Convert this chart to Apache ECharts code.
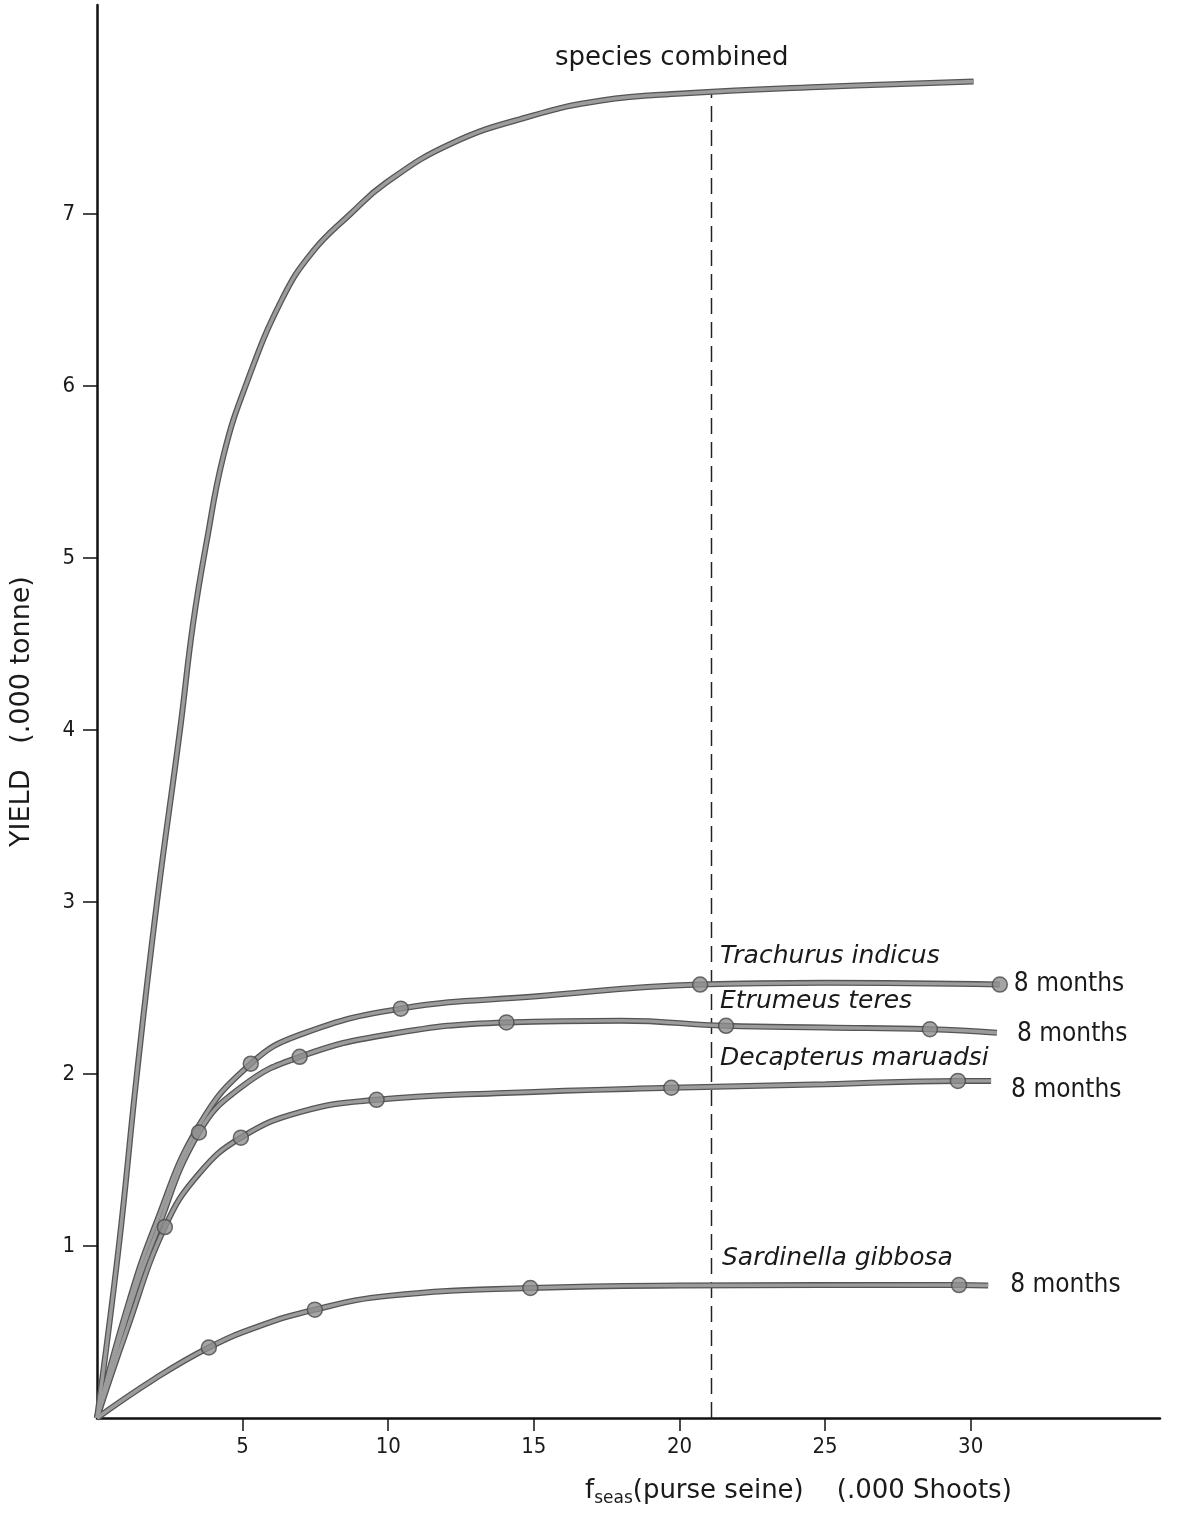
<!DOCTYPE html>
<html>
<head>
<meta charset="utf-8">
<script src="https://cdn.jsdelivr.net/npm/echarts@6/dist/echarts.min.js"></script>
<style>
  html, body { margin: 0; padding: 0; background: #fff; }
  #chart { width: 1179px; height: 1514px; }
</style>
</head>
<body>
<div id="chart"></div>
<script>
// Yield (thousand tonnes) against seasonal purse-seine effort (thousand shoots)
const xTickValues = [5, 10, 15, 20, 25, 30];
const yTickValues = [1, 2, 3, 4, 5, 6, 7];

const combinedCurve = [[0, 0], [0.75, 1.0], [1.37, 2.0], [2.06, 3.0], [2.85, 4.0], [3.3, 4.62],
  [3.77, 5.1], [4.35, 5.6], [5.1, 6.0], [6.34, 6.5], [7.4, 6.78], [8.7, 7.0], [9.91, 7.18],
  [12.17, 7.41], [14.92, 7.57], [17.32, 7.66], [20.06, 7.70], [25, 7.74], [30.1, 7.77]];

const trachurusCurve = [[0, 0], [1, 0.62], [2, 1.12], [3.5, 1.7], [5.28, 2.06], [7, 2.23],
  [10.43, 2.38], [15, 2.45], [20.71, 2.52], [25, 2.53], [31, 2.52]];
const trachurusPoints = [[5.28, 2.06], [10.43, 2.38], [20.71, 2.52], [31, 2.52]];

const etrumeusCurve = [[0, 0], [1, 0.58], [2, 1.06], [3.5, 1.66], [5, 1.93], [6.96, 2.10],
  [10, 2.23], [14.06, 2.30], [18, 2.31], [21.6, 2.28], [25, 2.27], [28.6, 2.26], [30.9, 2.24]];
const etrumeusPoints = [[3.5, 1.66], [6.96, 2.10], [14.06, 2.30], [21.6, 2.28], [28.6, 2.26]];

const decapterusCurve = [[0, 0], [1, 0.5], [2.33, 1.11], [3.5, 1.42], [4.94, 1.63], [7, 1.78],
  [9.6, 1.85], [14, 1.89], [19.72, 1.92], [25, 1.94], [29.56, 1.96], [30.7, 1.96]];
const decapterusPoints = [[2.33, 1.11], [4.94, 1.63], [9.6, 1.85], [19.72, 1.92], [29.56, 1.96]];

const sardinellaCurve = [[0, 0], [2, 0.23], [3.84, 0.41], [5.5, 0.53], [7.48, 0.63], [10, 0.71],
  [14.88, 0.756], [20, 0.77], [29.6, 0.773], [30.6, 0.77]];
const sardinellaPoints = [[3.84, 0.41], [7.48, 0.63], [14.88, 0.756], [29.6, 0.773]];

const referenceEffort = 21.1;
const referenceLine = [[referenceEffort, 0], [referenceEffort, 7.71]];

const periodLabel = '8 months';

const FONT = '"Liberation Sans Narrow", "DejaVu Sans Condensed", "DejaVu Sans", sans-serif';
const WIDE = '"DejaVu Sans", "Noto Sans", sans-serif';
const INK = '#1a1a1a';

const chart = echarts.init(document.getElementById('chart'), null, { renderer: 'canvas' });

function curveSeries(name, data, endLabelOffset) {
  const common = {
    type: 'line', data: data, smooth: 0.45,
    showSymbol: false, silent: true, animation: false, z: 3
  };
  const out = [
    Object.assign({}, common, { name: name + '-edge', lineStyle: { color: '#555', width: 6 } }),
    Object.assign({}, common, { name: name, z: 4, lineStyle: { color: '#9c9c9c', width: 3.4 } })
  ];
  if (endLabelOffset) {
    out[1].endLabel = {
      show: true, formatter: periodLabel, distance: 10, offset: endLabelOffset,
      fontFamily: FONT, fontSize: 26, color: INK
    };
  }
  return out;
}

function pointSeries(data) {
  return {
    type: 'scatter', data: data, symbol: 'circle', symbolSize: 15, z: 5,
    itemStyle: { color: '#8e8e8e', borderColor: '#4a4a4a', borderWidth: 1.5 },
    silent: true, animation: false
  };
}

const series = [].concat(
  curveSeries('species combined', combinedCurve, null),
  curveSeries('Trachurus indicus', trachurusCurve, [4, 0]),
  curveSeries('Etrumeus teres', etrumeusCurve, [10, 2]),
  curveSeries('Decapterus maruadsi', decapterusCurve, [10, 9]),
  curveSeries('Sardinella gibbosa', sardinellaCurve, [12, 0]),
  [
    pointSeries(trachurusPoints),
    pointSeries(etrumeusPoints),
    pointSeries(decapterusPoints),
    pointSeries(sardinellaPoints),
    {
      type: 'line', data: referenceLine, showSymbol: false, silent: true, animation: false, z: 2,
      lineStyle: { color: '#222', width: 1.5, type: [16, 8] }
    }
  ]
);

const italic = { fontFamily: WIDE, fontSize: 25, fontStyle: 'italic', fill: INK };

chart.setOption({
  backgroundColor: '#ffffff',
  animation: false,
  grid: { left: 95, right: 19, top: 5, bottom: 96 },
  xAxis: {
    type: 'value', min: 0, max: 36.5,
    axisLine: { lineStyle: { color: '#111', width: 2.5 } },
    axisTick: { show: true, customValues: xTickValues, length: 13, lineStyle: { color: '#111', width: 1.5 } },
    axisLabel: { customValues: xTickValues, margin: 18, fontFamily: FONT, fontSize: 22, color: INK },
    splitLine: { show: false }
  },
  yAxis: {
    type: 'value', min: 0, max: 8.215,
    axisLine: { show: true, lineStyle: { color: '#111', width: 2.5 } },
    axisTick: { show: true, customValues: yTickValues, length: 14, lineStyle: { color: '#111', width: 1.5 } },
    axisLabel: { customValues: yTickValues, margin: 22, fontFamily: FONT, fontSize: 22, color: INK },
    splitLine: { show: false },
    name: 'YIELD   (.000 tonne)', nameLocation: 'middle', nameRotate: 90, nameGap: 62,
    nameTextStyle: { fontFamily: WIDE, fontSize: 27, color: INK }
  },
  series: series,
  graphic: [
    { type: 'text', left: 555, top: 45, style: { text: 'species combined', fontFamily: WIDE, fontSize: 26, fill: INK } },
    { type: 'text', left: 720, top: 944, style: Object.assign({ text: 'Trachurus indicus' }, italic) },
    { type: 'text', left: 720, top: 989, style: Object.assign({ text: 'Etrumeus teres' }, italic) },
    { type: 'text', left: 720, top: 1046, style: Object.assign({ text: 'Decapterus maruadsi' }, italic) },
    { type: 'text', left: 722, top: 1246, style: Object.assign({ text: 'Sardinella gibbosa' }, italic) },
    {
      type: 'text', left: 585, top: 1478,
      style: {
        text: '{f|f}{s|seas}{t|(purse seine)    (.000 Shoots)}',
        rich: {
          f: { fontFamily: WIDE, fontSize: 26, fill: INK },
          s: { fontFamily: WIDE, fontSize: 17, fill: INK, padding: [15, 0, 0, 0] },
          t: { fontFamily: WIDE, fontSize: 26, fill: INK }
        }
      }
    }
  ]
});
</script>
</body>
</html>
